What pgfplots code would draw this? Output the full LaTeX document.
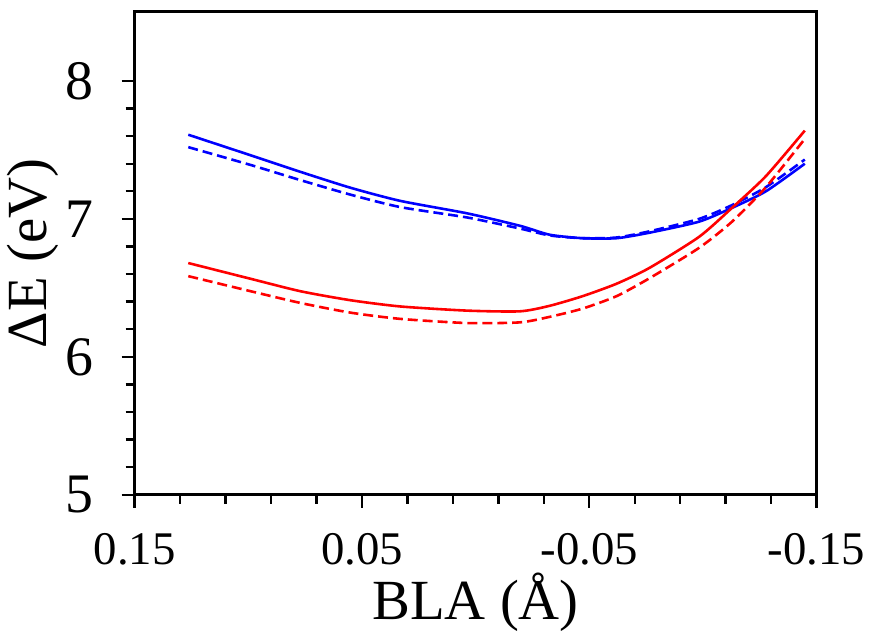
\documentclass[border=0pt]{standalone}
\usepackage{fontspec}
\setmainfont{Liberation Serif}
\usepackage{pgfplots}
\pgfplotsset{compat=1.18}

\begin{document}
\begin{tikzpicture}
\begin{axis}[
    at={(0,0)}, anchor=south west,
    scale only axis,
    width=342.5pt, height=242.5pt,
    x dir=reverse,
    xmin=-0.15, xmax=0.15,
    ymin=5, ymax=8.5,
    xtick={0.15,0.05,-0.05,-0.15},
    xticklabels={0.15,0.05,-0.05,-0.15},
    ytick={5,6,7,8},
    yticklabels={5,6,7,8},
    minor x tick num=4,
    minor y tick num=4,
    tick align=outside,
    xtick pos=bottom, ytick pos=left,
    major tick length=6.5pt,
    minor tick length=4.5pt,
    axis line style={line width=1.5pt},
    every tick/.style={black, line width=1.2pt},
    xticklabel style={font=\fontsize{23.5}{26}\selectfont, anchor=center, yshift=-21pt},
    yticklabel style={font=\fontsize{28}{30}\selectfont, anchor=center, xshift=-21pt},
    xlabel={BLA (Å)},
    ylabel={ΔE (eV)},
    label style={font=\fontsize{28.5}{30}\selectfont},
    xlabel style={at={(axis description cs:0.5,-0.223)}, anchor=center},
    ylabel style={at={(axis description cs:-0.150,0.5)}, anchor=center},
    clip=false,
    every axis plot/.append style={line width=1.3pt, smooth, tension=0.4},
]
% blue, solid
\addplot[blue] coordinates {
(0.1264,7.61) (0.0988,7.46) (0.0769,7.34) (0.0549,7.225) (0.0330,7.13)
(0.0037,7.04) (-0.0195,6.95) (-0.0326,6.885) (-0.0471,6.86) (-0.0620,6.86)
(-0.0765,6.90) (-0.0983,6.98) (-0.1128,7.08) (-0.1277,7.20) (-0.1448,7.40)};
% blue, dashed
\addplot[blue, dash pattern=on 5pt off 2.5pt] coordinates {
(0.1264,7.52) (0.0988,7.39) (0.0769,7.28) (0.0549,7.175) (0.0330,7.085)
(0.0037,7.01) (-0.0195,6.93) (-0.0326,6.88) (-0.0471,6.86) (-0.0620,6.865)
(-0.0765,6.91) (-0.0983,7.00) (-0.1128,7.10) (-0.1277,7.23) (-0.1448,7.43)};
% red, solid
\addplot[red] coordinates {
(0.1264,6.68) (0.0988,6.565) (0.0769,6.475) (0.0549,6.41) (0.0330,6.365)
(0.0037,6.335) (-0.0195,6.33) (-0.0326,6.37) (-0.0471,6.44) (-0.0620,6.53)
(-0.0765,6.645) (-0.0983,6.87) (-0.1128,7.08) (-0.1277,7.31) (-0.1448,7.64)};
% red, dashed
\addplot[red, dash pattern=on 5pt off 2.5pt] coordinates {
(0.1264,6.585) (0.0988,6.475) (0.0769,6.39) (0.0549,6.32) (0.0330,6.275)
(0.0037,6.245) (-0.0195,6.25) (-0.0326,6.29) (-0.0471,6.35) (-0.0620,6.44)
(-0.0765,6.57) (-0.0983,6.79) (-0.1128,6.98) (-0.1277,7.23) (-0.1448,7.58)};
\end{axis}
\path[use as bounding box] (-66.5pt,-67.5pt) rectangle (369.5pt,248.5pt);
\end{tikzpicture}
\end{document}
